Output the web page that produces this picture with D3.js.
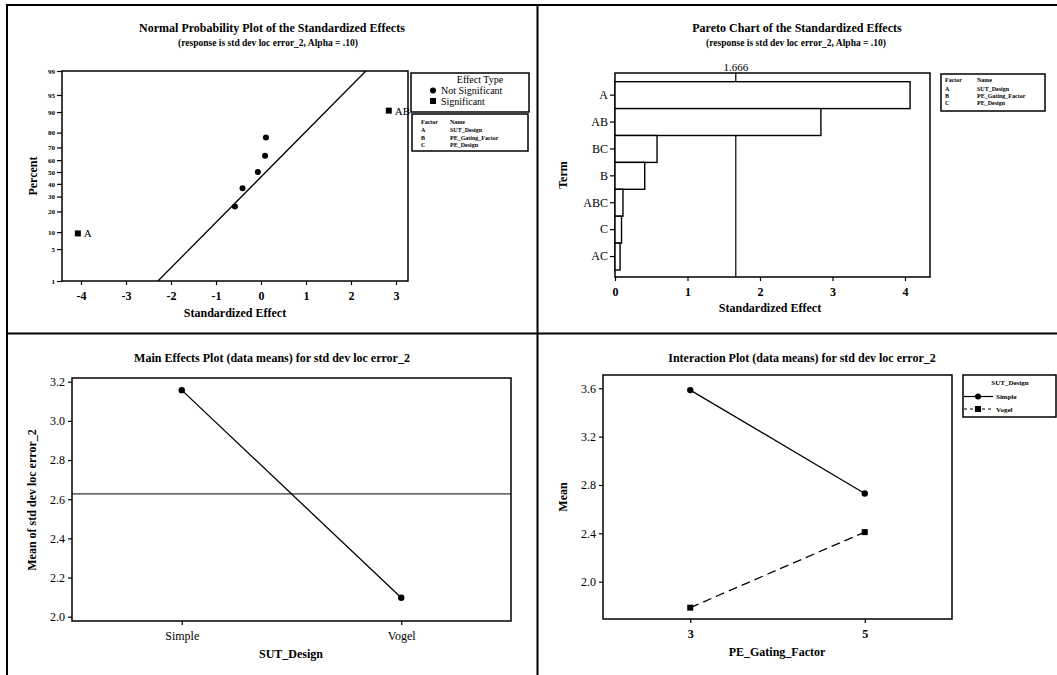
<!DOCTYPE html>
<html>
<head>
<meta charset="utf-8">
<script src="https://cdn.jsdelivr.net/npm/d3@7"></script>
<style>
  body { margin: 0; background: #fff; }
  svg text { font-family: "Liberation Serif", "Times New Roman", serif; fill: #000; }
</style>
</head>
<body>
<svg id="chart" width="1057" height="675"></svg>
<script>
// ---- Data: 2^3 factorial analysis of std dev loc error_2 ----
const terms = ["A", "AB", "BC", "B", "ABC", "C", "AC"];
const effects = [-4.07, 2.84, -0.58, -0.41, 0.11, 0.09, -0.07];   // standardized effects
const significantTerms = ["A", "AB"];
const normalPercents = [9.5, 23, 36.5, 50, 63.5, 77, 90.5];       // plotting positions (ascending effects)
const percentTicks = [1, 5, 10, 20, 30, 40, 50, 60, 70, 80, 90, 95, 99];
const effectTicks = [-4, -3, -2, -1, 0, 1, 2, 3];
const refLinePercents = [1, 99];
const refLineEffects = [-2.29, 2.33];
const paretoTicks = [0, 1, 2, 3, 4];
const criticalValue = 1.666;
const factorCodes = ["A", "B", "C"];
const factorNames = ["SUT_Design", "PE_Gating_Factor", "PE_Design"];
const effectTypes = ["Not Significant", "Significant"];

const designLevels = ["Simple", "Vogel"];
const designMeans = [3.157, 2.097];
const mainTicks = [2.0, 2.2, 2.4, 2.6, 2.8, 3.0, 3.2];

const gatingLevels = ["3", "5"];
const simpleMeans = [3.585, 2.73];
const vogelMeans = [1.785, 2.41];
const interTicks = [2.0, 2.4, 2.8, 3.2, 3.6];

// ---- helpers ----
const svg = d3.select("#chart");

// inverse standard normal CDF (Acklam's rational approximation)
function probit(p) {
  const a = [-3.969683028665376e+01, 2.209460984245205e+02, -2.759285104469687e+02, 1.383577518672690e+02, -3.066479806614716e+01, 2.506628277459239e+00];
  const b = [-5.447609879822406e+01, 1.615858368580409e+02, -1.556989798598866e+02, 6.680131188771972e+01, -1.328068155922803e+01];
  const c = [-7.784894002430293e-03, -3.223964580411365e-01, -2.400758277161838e+00, -2.549732539343734e+00, 4.374664141464968e+00, 2.938163982698783e+00];
  const d = [7.784695709041462e-03, 3.224671290700398e-01, 2.445134137142996e+00, 3.754408661907416e+00];
  const pl = 0.02425, ph = 1 - pl;
  let q, r;
  if (p < pl) {
    q = Math.sqrt(-2 * Math.log(p));
    return (((((c[0]*q+c[1])*q+c[2])*q+c[3])*q+c[4])*q+c[5]) / ((((d[0]*q+d[1])*q+d[2])*q+d[3])*q+1);
  }
  if (p > ph) {
    q = Math.sqrt(-2 * Math.log(1 - p));
    return -(((((c[0]*q+c[1])*q+c[2])*q+c[3])*q+c[4])*q+c[5]) / ((((d[0]*q+d[1])*q+d[2])*q+d[3])*q+1);
  }
  q = p - 0.5; r = q * q;
  return (((((a[0]*r+a[1])*r+a[2])*r+a[3])*r+a[4])*r+a[5])*q / (((((b[0]*r+b[1])*r+b[2])*r+b[3])*r+b[4])*r+1);
}

function text(g, x, y, str, opts = {}) {
  const t = g.append("text").attr("x", x).attr("y", y).text(str)
    .attr("font-size", opts.size || 12)
    .attr("font-weight", opts.weight || "normal")
    .attr("text-anchor", opts.anchor || "start");
  if (opts.rotate) t.attr("transform", `rotate(-90,${x},${y})`);
  return t;
}

function styleAxis(g, size) {
  g.select(".domain").remove();
  g.selectAll(".tick line").attr("stroke", "#000").attr("stroke-width", 1.2);
  g.selectAll(".tick text").attr("font-size", size).attr("font-weight", "bold")
    .attr("font-family", '"Liberation Serif", serif').attr("fill", "#000");
}

function frame(g, x0, y0, x1, y1) {
  g.append("rect").attr("x", x0).attr("y", y0).attr("width", x1 - x0).attr("height", y1 - y0)
    .attr("fill", "none").attr("stroke", "#000").attr("stroke-width", 1.5);
}

// ---- panel borders ----
const borders = svg.append("g").attr("stroke", "#000").attr("stroke-width", 2);
borders.append("line").attr("x1", 6).attr("x2", 1057).attr("y1", 5).attr("y2", 5);
borders.append("line").attr("x1", 7).attr("x2", 7).attr("y1", 5).attr("y2", 675);
borders.append("line").attr("x1", 537.5).attr("x2", 537.5).attr("y1", 5).attr("y2", 675);
borders.append("line").attr("x1", 7).attr("x2", 1057).attr("y1", 333.5).attr("y2", 333.5);

// ================= Normal probability plot =================
{
  const g = svg.append("g");
  const L = 62, R = 408, T = 71, B = 281;
  text(g, 272, 32, "Normal Probability Plot of the Standardized Effects", { size: 12, weight: "bold", anchor: "middle" });
  text(g, 268, 46, "(response is std dev loc error_2, Alpha = .10)", { size: 9.5, weight: "bold", anchor: "middle" });

  const x = d3.scaleLinear().domain([(L - 261) / 45, (R - 261) / 45]).range([L, R]);
  const z = d3.scaleLinear()
    .domain([probit(0.01), 0, probit(0.95), probit(0.99)])
    .range([B, 172, 95, T]);
  const yPct = p => z(probit(p / 100));

  frame(g, L, T, R, B);

  const xa = g.append("g").attr("transform", `translate(0,${B})`)
    .call(d3.axisBottom(x).tickValues(effectTicks).tickSize(4).tickPadding(6).tickFormat(d => String(d)));
  styleAxis(xa, 12);
  const ya = g.append("g").attr("transform", `translate(${L},0)`)
    .call(d3.axisLeft(z).tickValues(percentTicks.map(p => probit(p / 100))).tickSize(5).tickPadding(2)
      .tickFormat((d, i) => percentTicks[i]));
  styleAxis(ya, 7);

  text(g, 235, 317, "Standardized Effect", { size: 12, weight: "bold", anchor: "middle" });
  text(g, 37, 176, "Percent", { size: 12, weight: "bold", anchor: "middle", rotate: true });

  // reference line
  g.append("clipPath").attr("id", "npClip").append("rect")
    .attr("x", L).attr("y", T).attr("width", R - L).attr("height", B - T);
  g.append("line").attr("clip-path", "url(#npClip)")
    .attr("x1", x(refLineEffects[0])).attr("y1", yPct(refLinePercents[0]))
    .attr("x2", x(refLineEffects[1])).attr("y2", yPct(refLinePercents[1]))
    .attr("stroke", "#000").attr("stroke-width", 1.3);

  const pts = terms.map((t, i) => ({ term: t, effect: effects[i] }))
    .sort((a, b) => a.effect - b.effect);
  pts.forEach((d, i) => { d.pct = normalPercents[i]; d.sig = significantTerms.includes(d.term); });

  g.selectAll("circle.ns").data(pts.filter(d => !d.sig)).join("circle")
    .attr("cx", d => x(d.effect)).attr("cy", d => yPct(d.pct)).attr("r", 3).attr("fill", "#000");
  const sig = pts.filter(d => d.sig);
  g.selectAll("rect.sig").data(sig).join("rect")
    .attr("x", d => x(d.effect) - 3).attr("y", d => yPct(d.pct) - 3)
    .attr("width", 6).attr("height", 6).attr("fill", "#000");
  g.selectAll("text.sig").data(sig).join("text")
    .attr("x", d => x(d.effect) + 6).attr("y", d => yPct(d.pct) + 4)
    .attr("font-size", 11).text(d => d.term);

  // legend: effect type
  frame(g, 411, 73, 529, 112);
  text(g, 480, 83, "Effect Type", { size: 10, anchor: "middle" });
  g.append("circle").attr("cx", 433).attr("cy", 90.5).attr("r", 3).attr("fill", "#000");
  text(g, 441, 94, effectTypes[0], { size: 10 });
  g.append("rect").attr("x", 430).attr("y", 98).attr("width", 6).attr("height", 6).attr("fill", "#000");
  text(g, 441, 105, effectTypes[1], { size: 10 });

  // legend: factor names
  frame(g, 412, 114, 528, 151);
  text(g, 421, 124, "Factor", { size: 6, weight: "bold" });
  text(g, 450, 124, "Name", { size: 6, weight: "bold" });
  factorCodes.forEach((c, i) => {
    text(g, 421, 132 + i * 7.5, c, { size: 6, weight: "bold" });
    text(g, 450, 132 + i * 7.5, factorNames[i], { size: 6, weight: "bold" });
  });
}

// ================= Pareto chart =================
{
  const g = svg.append("g");
  const L = 615, R = 930, T = 73, B = 277;
  text(g, 797, 32, "Pareto Chart of the Standardized Effects", { size: 12, weight: "bold", anchor: "middle" });
  text(g, 796, 46, "(response is std dev loc error_2, Alpha = .10)", { size: 9.5, weight: "bold", anchor: "middle" });

  const x = d3.scaleLinear().domain([0, (R - L) / 72.5]).range([L, R]);
  const y = d3.scaleBand().domain(terms).range([81.7, 270]).paddingInner(0);

  frame(g, L, T, R, B);

  g.append("line").attr("x1", x(criticalValue)).attr("x2", x(criticalValue))
    .attr("y1", T).attr("y2", B).attr("stroke", "#000").attr("stroke-width", 1.2);
  text(g, x(criticalValue), 71, d3.format(".3f")(criticalValue), { size: 11, anchor: "middle" });

  g.selectAll("rect.bar").data(terms).join("rect")
    .attr("x", L).attr("y", d => y(d))
    .attr("width", (d, i) => x(Math.abs(effects[i])) - L)
    .attr("height", y.bandwidth())
    .attr("fill", "#fff").attr("stroke", "#000").attr("stroke-width", 1.4);

  const xa = g.append("g").attr("transform", `translate(0,${B})`)
    .call(d3.axisBottom(x).tickValues(paretoTicks).tickSize(4).tickPadding(6).tickFormat(d3.format("d")));
  styleAxis(xa, 12);
  const ya = g.append("g").attr("transform", `translate(${L},0)`)
    .call(d3.axisLeft(y).tickSize(5).tickPadding(2));
  styleAxis(ya, 12);
  ya.selectAll(".tick text").attr("font-weight", "normal");

  text(g, 770, 312, "Standardized Effect", { size: 12, weight: "bold", anchor: "middle" });
  text(g, 567, 175, "Term", { size: 12, weight: "bold", anchor: "middle", rotate: true });

  frame(g, 941, 74, 1045, 111);
  text(g, 945, 82, "Factor", { size: 6, weight: "bold" });
  text(g, 977, 82, "Name", { size: 6, weight: "bold" });
  factorCodes.forEach((c, i) => {
    text(g, 945, 90.5 + i * 7.3, c, { size: 6, weight: "bold" });
    text(g, 977, 90.5 + i * 7.3, factorNames[i], { size: 6, weight: "bold" });
  });
}

// ================= Main effects plot =================
{
  const g = svg.append("g");
  const L = 72, R = 511, T = 378, B = 621;
  text(g, 272, 362, "Main Effects Plot (data means) for std dev loc error_2", { size: 12, weight: "bold", anchor: "middle" });

  const x = d3.scalePoint().domain(designLevels).range([L, R]).padding(0.5);
  const y = d3.scaleLinear().domain([1.978, 3.219]).range([B, T]);

  frame(g, L, T, R, B);

  const xa = g.append("g").attr("transform", `translate(0,${B})`)
    .call(d3.axisBottom(x).tickSize(4).tickPadding(6));
  styleAxis(xa, 12);
  xa.selectAll(".tick text").attr("font-weight", "normal");
  const ya = g.append("g").attr("transform", `translate(${L},0)`)
    .call(d3.axisLeft(y).tickValues(mainTicks).tickSize(4).tickPadding(3).tickFormat(d3.format(".1f")));
  styleAxis(ya, 12);
  ya.selectAll(".tick text").attr("font-weight", "normal");

  const grand = d3.mean(designMeans);
  g.append("line").attr("x1", L).attr("x2", R).attr("y1", y(grand)).attr("y2", y(grand))
    .attr("stroke", "#000").attr("stroke-width", 1);

  const line = d3.line().x((d, i) => x(designLevels[i])).y(d => y(d));
  g.append("path").attr("d", line(designMeans)).attr("fill", "none").attr("stroke", "#000").attr("stroke-width", 1.3);
  g.selectAll("circle.m").data(designMeans).join("circle")
    .attr("cx", (d, i) => x(designLevels[i])).attr("cy", d => y(d)).attr("r", 3.2).attr("fill", "#000");

  text(g, 291, 658, "SUT_Design", { size: 12, weight: "bold", anchor: "middle" });
  text(g, 36, 500, "Mean of std dev loc error_2", { size: 12, weight: "bold", anchor: "middle", rotate: true });
}

// ================= Interaction plot =================
{
  const g = svg.append("g");
  const L = 603, R = 952, T = 375, B = 619;
  text(g, 802, 362, "Interaction Plot (data means) for std dev loc error_2", { size: 12, weight: "bold", anchor: "middle" });

  const x = d3.scalePoint().domain(gatingLevels).range([L, R]).padding(0.5);
  const y = d3.scaleLinear().domain([1.691, 3.710]).range([B, T]);

  frame(g, L, T, R, B);

  const xa = g.append("g").attr("transform", `translate(0,${B})`)
    .call(d3.axisBottom(x).tickSize(4).tickPadding(6));
  styleAxis(xa, 12);
  const ya = g.append("g").attr("transform", `translate(${L},0)`)
    .call(d3.axisLeft(y).tickValues(interTicks).tickSize(4).tickPadding(3).tickFormat(d3.format(".1f")));
  styleAxis(ya, 12);
  ya.selectAll(".tick text").attr("font-weight", "normal");

  const series = [
    { name: designLevels[0], values: simpleMeans, dash: null, shape: "circle" },
    { name: designLevels[1], values: vogelMeans, dash: "9,5", shape: "square" }
  ];
  const line = d3.line().x((d, i) => x(gatingLevels[i])).y(d => y(d));
  series.forEach(s => {
    g.append("path").attr("d", line(s.values)).attr("fill", "none").attr("stroke", "#000")
      .attr("stroke-width", 1.3).attr("stroke-dasharray", s.dash);
    s.values.forEach((v, i) => {
      if (s.shape === "circle") {
        g.append("circle").attr("cx", x(gatingLevels[i])).attr("cy", y(v)).attr("r", 3.2).attr("fill", "#000");
      } else {
        g.append("rect").attr("x", x(gatingLevels[i]) - 3).attr("y", y(v) - 3)
          .attr("width", 6).attr("height", 6).attr("fill", "#000");
      }
    });
  });

  text(g, 777, 656, "PE_Gating_Factor", { size: 12, weight: "bold", anchor: "middle" });
  text(g, 567, 497, "Mean", { size: 12, weight: "bold", anchor: "middle", rotate: true });

  // legend
  frame(g, 963, 375, 1056, 417);
  text(g, 1010, 385, "SUT_Design", { size: 7, weight: "bold", anchor: "middle" });
  series.forEach((s, i) => {
    const ly = 396.5 + i * 12.5;
    g.append("line").attr("x1", 964).attr("x2", 993).attr("y1", ly).attr("y2", ly)
      .attr("stroke", "#000").attr("stroke-width", 1.2).attr("stroke-dasharray", s.dash ? "3,3" : null);
    if (s.shape === "circle") g.append("circle").attr("cx", 978).attr("cy", ly).attr("r", 3).attr("fill", "#000");
    else g.append("rect").attr("x", 975).attr("y", ly - 3).attr("width", 6).attr("height", 6).attr("fill", "#000");
    text(g, 996, ly + 2.5, s.name, { size: 7, weight: "bold" });
  });
}
</script>
</body>
</html>
